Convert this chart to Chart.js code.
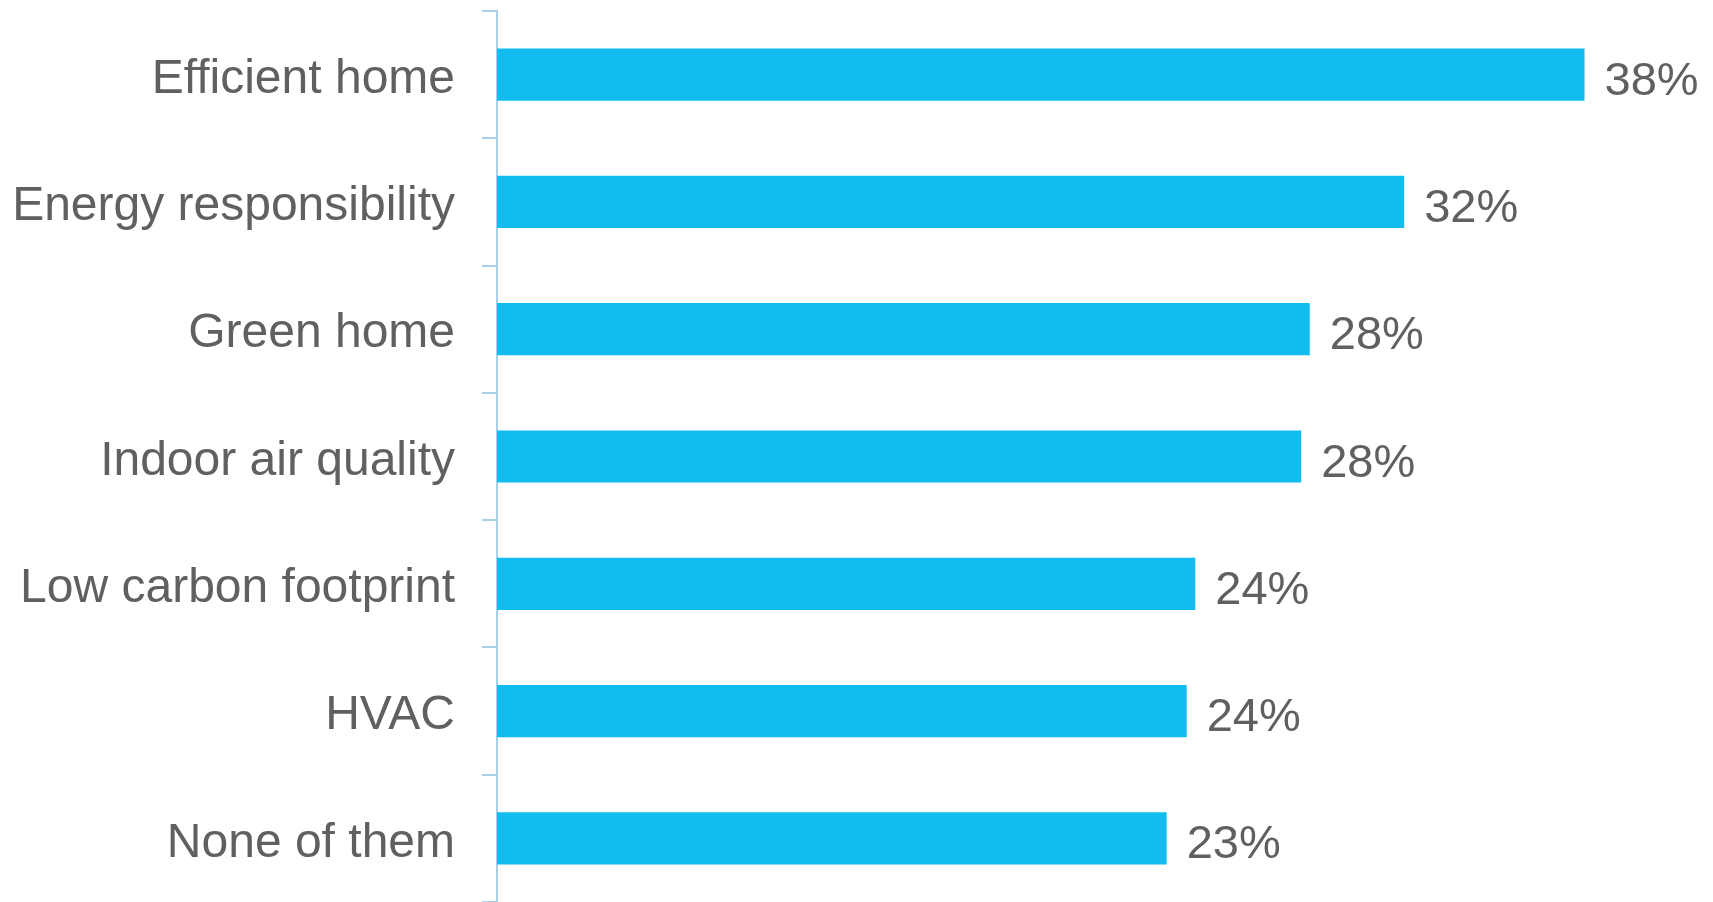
<!DOCTYPE html>
<html>
<head>
<meta charset="utf-8">
<script src="https://cdn.jsdelivr.net/npm/chart.js@4"></script>
<style>
  html, body { margin: 0; padding: 0; background: #ffffff; }
  #wrap { width: 1713px; height: 902px; position: relative; }
</style>
</head>
<body>
<div id="wrap"><canvas id="c"></canvas></div>
<script>
const categories = ["Efficient home", "Energy responsibility", "Green home", "Indoor air quality", "Low carbon footprint", "HVAC", "None of them"];
const shares = [38.0, 31.7, 28.4, 28.1, 24.4, 24.1, 23.4];
const shareLabels = ["38%", "32%", "28%", "28%", "24%", "24%", "23%"];

const TEXT_COLOR = "#606060";
const BAR_COLOR = "#13BCEE";
const AXIS_COLOR = "#A9CFEA";
const FONT = "'Liberation Sans', Arial, sans-serif";

const valueLabels = {
  id: "valueLabels",
  afterDatasetsDraw(chart) {
    const ctx = chart.ctx;
    const meta = chart.getDatasetMeta(0);
    ctx.save();
    ctx.font = "47px " + FONT;
    ctx.fillStyle = TEXT_COLOR;
    ctx.textAlign = "left";
    ctx.textBaseline = "alphabetic";
    meta.data.forEach((bar, i) => {
      ctx.fillText(shareLabels[i], bar.x + 20, bar.y + 20);
    });
    ctx.restore();
  }
};

new Chart(document.getElementById("c"), {
  type: "bar",
  data: {
    labels: categories,
    datasets: [{
      data: shares,
      backgroundColor: BAR_COLOR,
      borderWidth: 0,
      categoryPercentage: 1,
      barPercentage: 0.41
    }]
  },
  options: {
    indexAxis: "y",
    responsive: true,
    maintainAspectRatio: false,
    animation: false,
    layout: { padding: { top: 11, right: 14, bottom: 0, left: 0 } },
    plugins: { legend: { display: false }, tooltip: { enabled: false } },
    scales: {
      x: { display: false, min: 0, max: 42 },
      y: {
        afterFit(scale) {
          scale.width = 497;
          scale.paddingTop = 0;
          scale.paddingBottom = 0;
        },
        grid: {
          display: true,
          drawOnChartArea: false,
          drawTicks: true,
          tickLength: 15,
          color: AXIS_COLOR,
          lineWidth: 2,
          offset: true
        },
        border: { display: true, color: AXIS_COLOR, width: 2 },
        ticks: {
          color: TEXT_COLOR,
          padding: 27,
          labelOffset: 5,
          font: { family: FONT, size: 48 }
        }
      }
    }
  },
  plugins: [valueLabels]
});
</script>
</body>
</html>
